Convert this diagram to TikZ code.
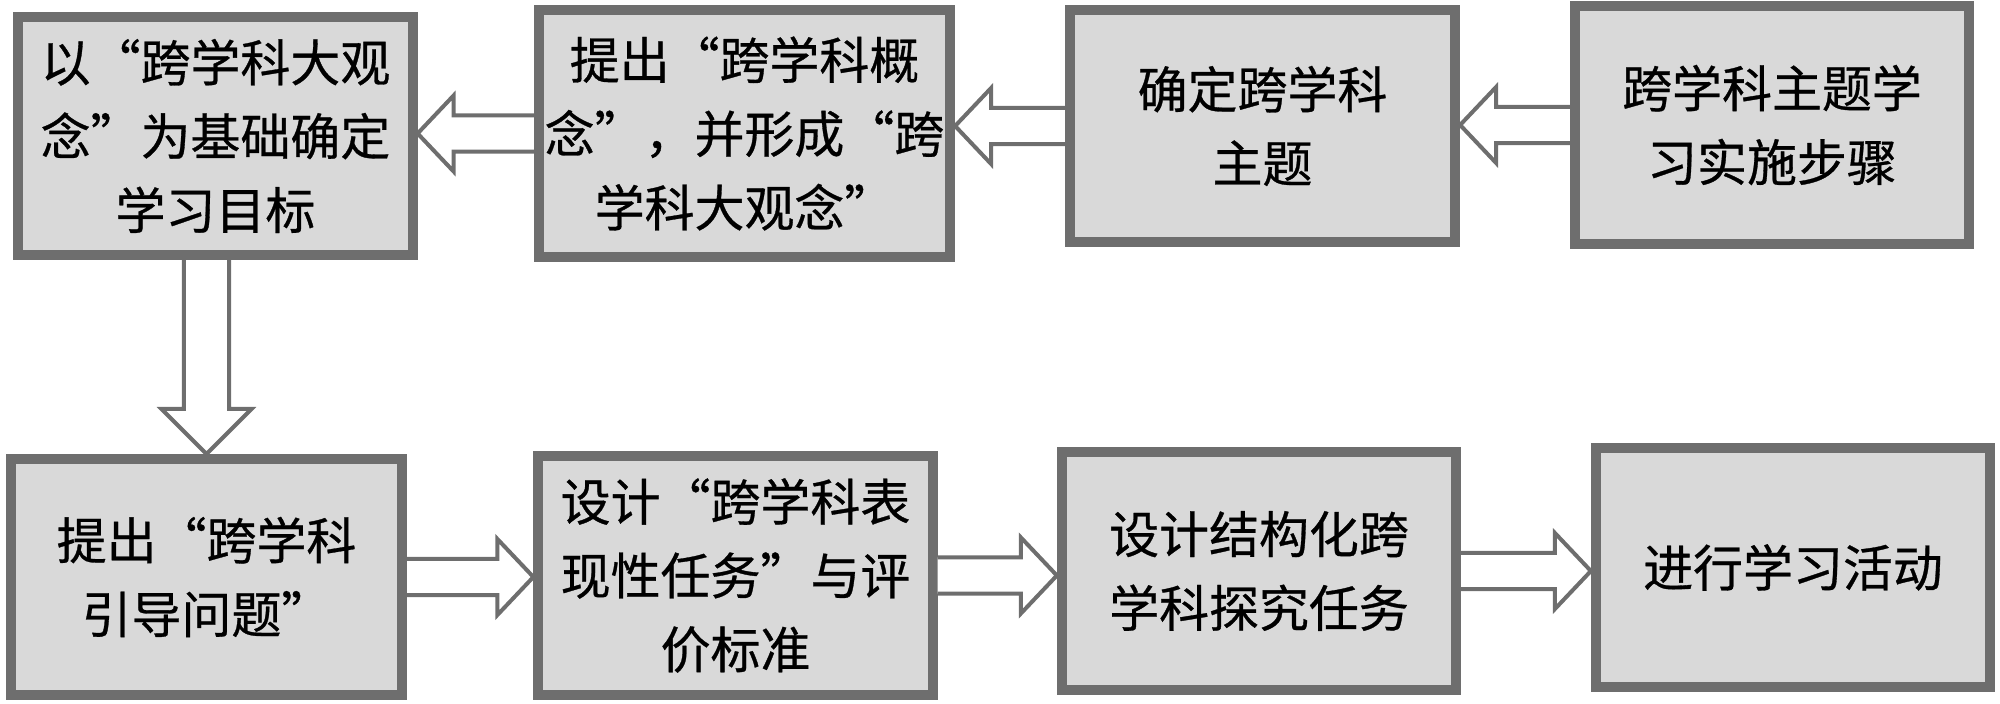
\documentclass[tikz,border=0pt]{standalone}
\usepackage{fontspec}
\setmainfont{Noto Sans CJK SC}[FakeBold=0.6]
\usetikzlibrary{calc}
\definecolor{edgegray}{RGB}{110,110,110}
\definecolor{boxgray}{RGB}{217,217,217}
\newcommand{\shw}{0.18cm}
\newcommand{\hdw}{0.38cm}
\newcommand{\hdl}{0.36cm}
\tikzset{
  arrshaft/.store in=\shw, arrhead/.store in=\hdw, arrlen/.store in=\hdl,
  stepbox/.style={draw=edgegray, fill=boxgray, line width=0.1cm, inner sep=0pt,
    minimum width=3.94cm, minimum height=2.38cm, align=center,
    font=\fontsize{14.2}{21}\selectfont},
  hollow/.style={draw=edgegray, line width=0.04cm, fill=white,
    to path={($(\tikztostart)!\shw!90:(\tikztotarget)$)
      -- ($(\tikztotarget)!\hdl!(\tikztostart)!\shw!-90:(\tikztostart)$)
      -- ($(\tikztotarget)!\hdl!(\tikztostart)!\hdw!-90:(\tikztostart)$)
      -- (\tikztotarget)
      -- ($(\tikztotarget)!\hdl!(\tikztostart)!\hdw!90:(\tikztostart)$)
      -- ($(\tikztotarget)!\hdl!(\tikztostart)!\shw!90:(\tikztostart)$)
      -- ($(\tikztostart)!\shw!-90:(\tikztotarget)$)}}
}
\begin{document}
\begin{tikzpicture}[x=0.01cm,y=-0.01cm]
\useasboundingbox (0,0) rectangle (2000,704);
% top row, read from right to left
\node[stepbox] (goal) at (215.5,136) {以“跨学科大观\\念”为基础确定\\学习目标};
\node[stepbox, minimum width=4.11cm, minimum height=2.47cm] (concept) at (744.5,133.5) {提出“跨学科概\\念”，并形成“跨\\学科大观念”};
\node[stepbox, minimum width=3.85cm, minimum height=2.32cm] (theme) at (1262.5,126) {确定跨学科\\主题};
\node[stepbox] (steps) at (1772,125) {跨学科主题学\\习实施步骤};
% bottom row
\node[stepbox, minimum width=3.91cm, minimum height=2.36cm] (question) at (206.5,577) {提出“跨学科\\引导问题”};
\node[stepbox] (task) at (735.5,575.5) {设计“跨学科表\\现性任务”与评\\价标准};
\node[stepbox] (inquiry) at (1259,571) {设计结构化跨\\学科探究任务};
\node[stepbox] (activity) at (1793,567.5) {进行学习活动};
% block arrows
\draw[hollow] (steps.west) to (steps.west -| theme.east);
\draw[hollow] (theme.west) to (theme.west -| concept.east);
\draw[hollow] (concept.west) to (concept.west -| goal.east);
\draw[hollow, arrshaft=0.225cm, arrhead=0.45cm, arrlen=0.45cm] (goal.south -| question.north) to (question.north);
\draw[hollow] (question.east) to (question.east -| task.west);
\draw[hollow] (task.east) to (task.east -| inquiry.west);
\draw[hollow] (inquiry.east) to (inquiry.east -| activity.west);
\end{tikzpicture}
\end{document}
